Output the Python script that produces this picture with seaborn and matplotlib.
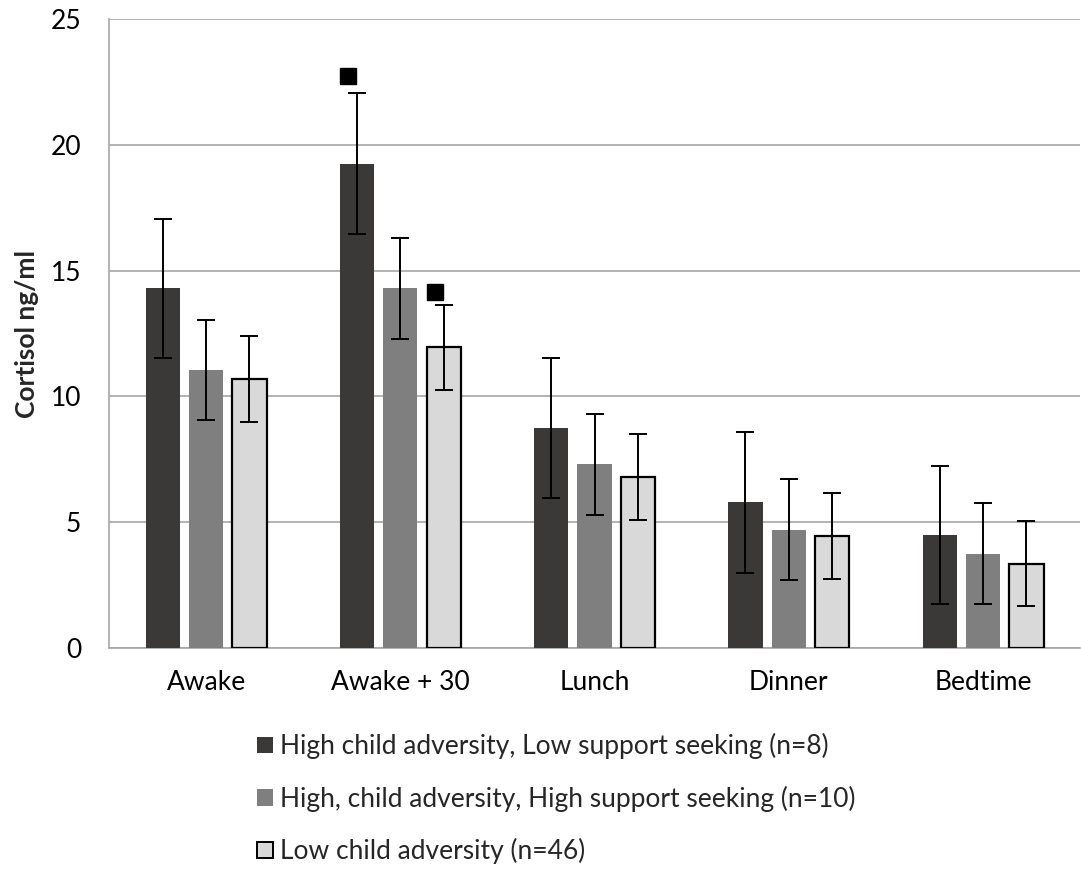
import matplotlib
matplotlib.use("Agg")
import matplotlib.pyplot as plt
import matplotlib.patches as mpatches
import seaborn as sns
import pandas as pd
import numpy as np

categories = ["Awake", "Awake + 30", "Lunch", "Dinner", "Bedtime"]
groups = ["High child adversity, Low support seeking (n=8)",
          "High, child adversity, High support seeking (n=10)",
          "Low child adversity (n=46)"]
means_dark = [14.3, 19.25, 8.75, 5.8, 4.5]
means_mid = [11.05, 14.3, 7.3, 4.7, 3.75]
means_light = [10.7, 11.95, 6.8, 4.45, 3.35]
err_dark = [2.75, 2.8, 2.8, 2.8, 2.75]
err_mid = [2.0, 2.0, 2.0, 2.0, 2.0]
err_light = [1.7, 1.7, 1.7, 1.7, 1.7]
# significance markers: (category index, group index, value)
marker_cat = [1, 1]
marker_grp = [0, 2]
marker_val = [22.75, 14.15]

colors = ["#3a3937", "#7f7f7f", "#d9d9d9"]

sns.set_theme(style="white")
plt.rcParams["font.family"] = ["Lato", "DejaVu Sans"]

rows = []
for g, ms in zip(groups, [means_dark, means_mid, means_light]):
    for c, m in zip(categories, ms):
        rows.append({"cat": c, "group": g, "val": m})
df = pd.DataFrame(rows)

fig = plt.figure(figsize=(10.81, 8.76), dpi=100)
ax = fig.add_axes([0.1008, 0.2603, 0.8985, 0.7177])

sns.barplot(data=df, x="cat", y="val", hue="group", hue_order=groups,
            order=categories, palette=colors, width=0.67, gap=0.21,
            errorbar=None, ax=ax, zorder=3, saturation=1)

errs = [err_dark, err_mid, err_light]
means = [means_dark, means_mid, means_light]
bar_conts = list(ax.containers)
centers = {}
for gi, cont in enumerate(bar_conts):
    xs = []
    for p in cont.patches:
        xs.append(p.get_x() + p.get_width() / 2)
        if gi == 2:
            p.set_edgecolor("black")
            p.set_linewidth(1.6)
        else:
            p.set_edgecolor("none")
    centers[gi] = xs
for gi in range(3):
    ax.errorbar(centers[gi], means[gi], yerr=errs[gi], fmt="none", ecolor="black",
                elinewidth=1.4, capsize=6.2, capthick=1.4, zorder=4)

for ci, gi, v in zip(marker_cat, marker_grp, marker_val):
    ax.plot(centers[gi][ci] - 0.045, v, marker="s", color="black",
            markersize=12, linestyle="none", zorder=5)

ax.set_ylim(0, 25)
ax.set_yticks([0, 5, 10, 15, 20, 25])
ax.set_xlim(-0.5, 4.5)
ax.yaxis.grid(True, color="#a6a6a6", linewidth=1.2, zorder=0)
ax.set_axisbelow(True)
for s in ["top", "right"]:
    ax.spines[s].set_visible(False)
for s in ["left", "bottom"]:
    ax.spines[s].set_color("#a6a6a6")
    ax.spines[s].set_linewidth(1.2)
ax.tick_params(axis="both", labelsize=19, colors="black", length=0)
ax.tick_params(axis="y", pad=20)
ax.tick_params(axis="x", pad=16)
ax.set_xlabel("")
ax.set_ylabel("Cortisol ng/ml", fontsize=19, fontweight="bold", labelpad=8)

if ax.get_legend() is not None:
    ax.get_legend().remove()
handles = []
for i, (g, c) in enumerate(zip(groups, colors)):
    handles.append(mpatches.Patch(facecolor=c,
                                  edgecolor="black" if i == 2 else c,
                                  linewidth=1.4 if i == 2 else 0))
fig.legend(handles, groups, loc="upper left", bbox_to_anchor=(0.2377, 0.163),
           frameon=False, fontsize=19, handlelength=0.6, handleheight=0.6,
           handletextpad=0.27, labelspacing=1.0, borderaxespad=0, borderpad=0)

fig.savefig("out.png", dpi=100)
